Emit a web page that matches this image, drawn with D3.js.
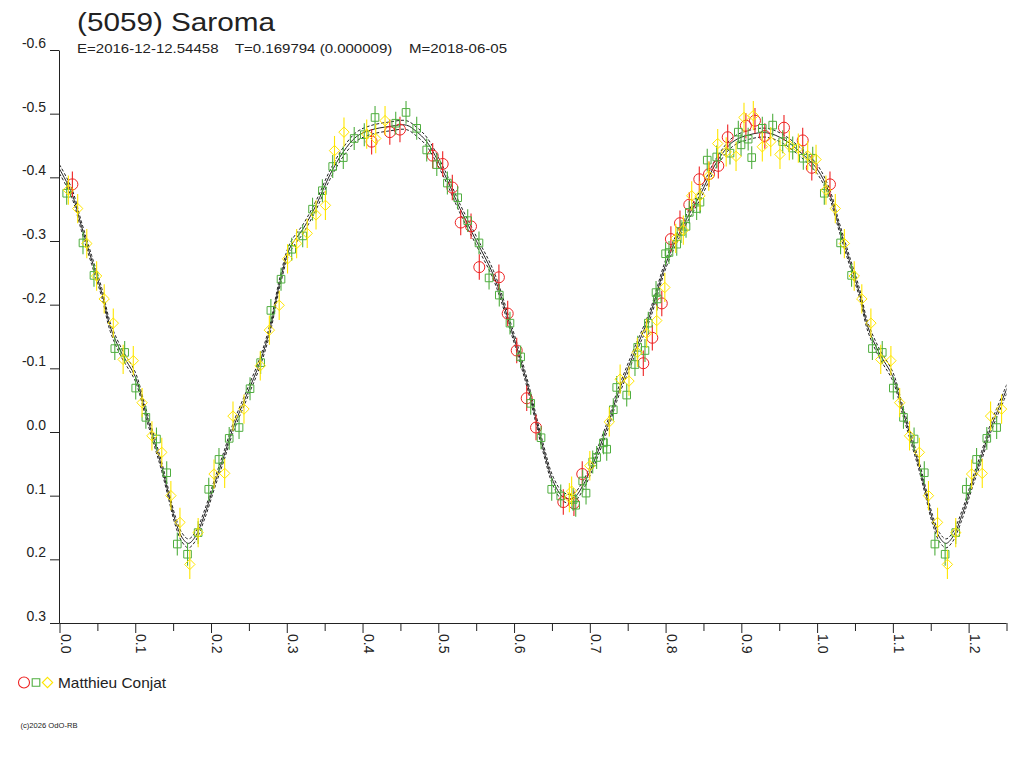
<!DOCTYPE html>
<html><head><meta charset="utf-8">
<script src="https://cdn.jsdelivr.net/npm/d3@7"></script>
<style>
html,body{margin:0;padding:0;background:#fff;}
svg{display:block;font-family:"Liberation Sans",Arial,sans-serif;}
</style></head>
<body>
<svg id="chart" width="1024" height="768"></svg>
<script>
// ---------- data ----------
const titleText = "(5059) Saroma";
const subtitleText = "E=2016-12-12.54458    T=0.169794 (0.000009)    M=2018-06-05";
const observer = "Matthieu Conjat";
const copyrightText = "(c)2026 OdO-RB";

const xMajorTicks = [0.0,0.1,0.2,0.3,0.4,0.5,0.6,0.7,0.8,0.9,1.0,1.1,1.2];
const xMinorTicks = [0.05,0.15,0.25,0.35,0.45,0.55,0.65,0.75,0.85,0.95,1.05,1.15,1.25];
const yTicks = [-0.6,-0.5,-0.4,-0.3,-0.2,-0.1,0.0,0.1,0.2,0.3];

// fitted curve (phase 0..1)
const curvePhase = [0.000,0.016,0.029,0.0425,0.056,0.067,0.082,0.100,0.113,0.126,0.135,0.1436,0.1525,0.1614,0.170,0.179,0.192,0.205,0.217,0.229,0.247,0.2647,0.278,0.291,0.304,0.322,0.339,0.357,0.3746,0.392,0.410,0.436,0.458,0.471,0.4847,0.5066,0.5286,0.5507,0.5726,0.5946,0.6167,0.6386,0.6518,0.665,0.678,0.6914,0.709,0.7266,0.7355,0.7574,0.7794,0.8015,0.8234,0.8454,0.8675,0.889,0.911,0.9335,0.9554,0.9774,1.000];
const curveMag   = [-0.413,-0.376,-0.323,-0.270,-0.218,-0.165,-0.124,-0.087,-0.034,0.018,0.055,0.096,0.138,0.165,0.175,0.165,0.128,0.080,0.038,-0.006,-0.058,-0.110,-0.163,-0.236,-0.289,-0.320,-0.357,-0.404,-0.440,-0.464,-0.474,-0.480,-0.482,-0.472,-0.456,-0.409,-0.351,-0.299,-0.247,-0.168,-0.079,0.026,0.078,0.102,0.104,0.083,0.036,-0.021,-0.055,-0.121,-0.184,-0.268,-0.325,-0.372,-0.424,-0.456,-0.467,-0.470,-0.460,-0.440,-0.413];
const curveSpread = 0.007;

// red circles
const redPhase = [0.017,0.412,0.436,0.4494,0.4926,0.5058,0.5185,0.5296,0.5432,0.5541,0.580,0.5916,0.6035,0.6167,0.629,0.665,0.679,0.690,0.7706,0.7825,0.795,0.807,0.819,0.8313,0.8445,0.8573,0.8696,0.882,0.906,0.918,0.931,0.9563,0.981,0.993];
const redMag   = [-0.389,-0.456,-0.471,-0.475,-0.434,-0.421,-0.384,-0.329,-0.323,-0.259,-0.243,-0.186,-0.128,-0.053,-0.007,0.110,0.112,0.066,-0.108,-0.148,-0.202,-0.303,-0.328,-0.357,-0.397,-0.405,-0.418,-0.463,-0.481,-0.489,-0.465,-0.478,-0.458,-0.415];
const redErr = 0.020;

// green squares
const greenPhase = [0.0095,0.031,0.0455,0.073,0.086,0.1006,0.114,0.128,0.1415,0.1555,0.169,0.183,0.197,0.2105,0.224,0.237,0.2515,0.2655,0.279,0.2924,0.3065,0.321,0.334,0.347,0.3606,0.3746,0.389,0.4023,0.4165,0.4438,0.4574,0.4715,0.4847,0.498,0.512,0.5256,0.5388,0.5537,0.567,0.5805,0.5946,0.6087,0.622,0.6356,0.6497,0.6616,0.678,0.6814,0.6906,0.695,0.7038,0.709,0.718,0.7223,0.731,0.7355,0.7487,0.7596,0.7632,0.7728,0.7772,0.7874,0.789,0.800,0.8045,0.8147,0.8204,0.827,0.8313,0.841,0.8454,0.855,0.8675,0.885,0.896,0.8996,0.909,0.9137,0.9277,0.9414,0.9546,0.9678,0.9818,0.9942];
const greenMag   = [-0.375,-0.297,-0.246,-0.131,-0.125,-0.069,-0.023,0.011,0.064,0.176,0.192,0.158,0.090,0.043,0.010,-0.007,-0.068,-0.109,-0.191,-0.240,-0.287,-0.308,-0.350,-0.379,-0.417,-0.431,-0.461,-0.467,-0.494,-0.485,-0.502,-0.477,-0.443,-0.420,-0.391,-0.368,-0.332,-0.297,-0.242,-0.215,-0.171,-0.118,-0.045,0.009,0.090,0.1005,0.106,0.115,0.077,0.096,0.047,0.040,0.017,0.027,-0.035,-0.070,-0.058,-0.106,-0.133,-0.128,-0.171,-0.219,-0.209,-0.280,-0.282,-0.295,-0.315,-0.323,-0.345,-0.351,-0.361,-0.427,-0.432,-0.438,-0.471,-0.451,-0.460,-0.431,-0.477,-0.482,-0.456,-0.446,-0.430,-0.430];
const greenErr = 0.018;

// yellow diamonds
const yellowPhase = [0.0117,0.024,0.036,0.049,0.059,0.071,0.084,0.0974,0.109,0.122,0.135,0.147,0.159,0.172,0.183,0.204,0.218,0.229,0.2435,0.265,0.277,0.290,0.301,0.313,0.327,0.3386,0.351,0.363,0.3755,0.4055,0.4174,0.4297,0.673,0.676,0.700,0.7257,0.740,0.7517,0.7627,0.775,0.7883,0.799,0.8134,0.8234,0.8345,0.8454,0.857,0.8688,0.880,0.893,0.9035,0.9158,0.9277,0.9388,0.951,0.9633,0.9752,0.9876,0.9986];
const yellowMag   = [-0.380,-0.351,-0.296,-0.245,-0.209,-0.171,-0.114,-0.112,-0.046,0.006,0.032,0.100,0.142,0.208,0.158,0.066,0.065,-0.025,-0.036,-0.104,-0.160,-0.199,-0.272,-0.296,-0.312,-0.341,-0.356,-0.442,-0.471,-0.468,-0.461,-0.489,0.103,0.093,0.053,-0.016,-0.083,-0.080,-0.125,-0.155,-0.175,-0.227,-0.304,-0.317,-0.371,-0.371,-0.402,-0.453,-0.440,-0.433,-0.494,-0.497,-0.448,-0.456,-0.436,-0.450,-0.446,-0.434,-0.428];
const yellowErr = 0.023;

const colRed = "#ee2222", colGreen = "#4fae3f", colYellow = "#ffe600", ink = "#222";

// ---------- scales ----------
const x = d3.scaleLinear().domain([0,1.25]).range([59.5,1006.5]);
const y = d3.scaleLinear().domain([-0.6,0.3]).range([50,623]);
const svg = d3.select("#chart");
const fmt = d => (Math.abs(d) < 1e-9 ? 0 : d).toFixed(1);

// wrap helper: phases shown once more shifted by +1 when within the axis range
function wrap(ph, mg){
  const out = [];
  ph.forEach((p,i)=>{ out.push([p,mg[i]]); if (p+1 <= 1.25) out.push([p+1,mg[i]]); });
  return out;
}

// ---------- axes ----------
const yAxis = svg.append("g").attr("transform","translate(59,0)")
  .call(d3.axisLeft(y).tickValues(yTicks).tickSize(9).tickSizeOuter(0).tickFormat(fmt));
yAxis.selectAll("path,line").attr("stroke",ink);
yAxis.selectAll("text").attr("x",-13).attr("dy",-2.5).attr("fill",ink)
  .style("font-size","14px").style("font-family","'Liberation Sans',Arial,sans-serif");

const xAxis = svg.append("g").attr("transform","translate(0,623)")
  .call(d3.axisBottom(x).tickValues(xMajorTicks).tickSize(10).tickSizeOuter(0).tickFormat(fmt));
xAxis.select("path").attr("stroke",ink).attr("d","M59.5,0.5H1006.5");
xAxis.selectAll("line").attr("stroke",ink);
xAxis.selectAll("text").attr("x",0).attr("y",0).attr("dy",0)
  .attr("transform","translate(0.5,11) rotate(90)").style("text-anchor","start").attr("fill",ink)
  .style("font-size","14px").style("font-family","'Liberation Sans',Arial,sans-serif");

const xMinor = svg.append("g").attr("transform","translate(0,623)")
  .call(d3.axisBottom(x).tickValues(xMinorTicks).tickSize(8).tickSizeOuter(0).tickFormat(""));
xMinor.select("path").remove();
xMinor.selectAll("line").attr("stroke",ink);

// ---------- fitted curve ----------
svg.append("clipPath").attr("id","plotclip").append("rect")
  .attr("x",x(0)).attr("y",y(-0.6)).attr("width",x(1.25)-x(0)).attr("height",y(0.3)-y(-0.6));

const curvePts = [];
curvePhase.forEach((p,i)=>curvePts.push([p,curveMag[i]]));
curvePhase.forEach((p,i)=>{ if (p>0 && p<=0.28) curvePts.push([p+1,curveMag[i]]); });
curvePts.sort((a,b)=>a[0]-b[0]);

const cg = svg.append("g").attr("clip-path","url(#plotclip)");
[-curveSpread,0,curveSpread].forEach(off=>{
  cg.append("path")
    .attr("d", d3.line().x(d=>x(d[0])).y(d=>y(d[1]+off)).curve(d3.curveCatmullRom)(curvePts))
    .attr("fill","none").attr("stroke",ink).attr("stroke-width",1)
    .attr("stroke-dasharray", off===0 ? null : "3,2");
});

// ---------- observations ----------
function markerPath(shape){
  if (shape==="circle") return "M5.5,0A5.5,5.5 0 1,1 -5.5,0A5.5,5.5 0 1,1 5.5,0Z";
  if (shape==="square") return "M-3.8,-3.8H3.8V3.8H-3.8Z";
  return "M0,-5.2L5.2,0L0,5.2L-5.2,0Z";
}
function drawSeries(ph, mg, err, color, shape){
  const g = svg.append("g");
  const pts = wrap(ph, mg);
  g.selectAll("line.err").data(pts).join("line")
    .attr("x1",d=>x(d[0])).attr("x2",d=>x(d[0]))
    .attr("y1",d=>y(d[1]-err)).attr("y2",d=>y(d[1]+err))
    .attr("stroke",color).attr("stroke-width",1.1);
  g.selectAll("path.m").data(pts).join("path")
    .attr("transform",d=>`translate(${x(d[0])},${y(d[1])})`)
    .attr("d", markerPath(shape))
    .attr("fill","none").attr("stroke",color).attr("stroke-width",1);
}
drawSeries(redPhase, redMag, redErr, colRed, "circle");
drawSeries(greenPhase, greenMag, greenErr, colGreen, "square");
drawSeries(yellowPhase, yellowMag, yellowErr, colYellow, "diamond");

// ---------- texts ----------
svg.append("text").attr("x",77).attr("y",31).text(titleText)
  .attr("fill",ink).style("font-size","25px").attr("textLength",198).attr("lengthAdjust","spacingAndGlyphs");
svg.append("text").attr("x",77).attr("y",53).text(subtitleText).attr("xml:space","preserve")
  .style("white-space","pre").attr("fill",ink).style("font-size","13.5px").attr("textLength",430).attr("lengthAdjust","spacingAndGlyphs");

// legend
const lg = svg.append("g").attr("transform","translate(0,682.5)");
lg.append("path").attr("transform","translate(24,0)").attr("d",markerPath("circle")).attr("fill","none").attr("stroke",colRed).attr("stroke-width",1.1);
lg.append("path").attr("transform","translate(36,0)").attr("d",markerPath("square")).attr("fill","none").attr("stroke",colGreen).attr("stroke-width",1.1);
lg.append("path").attr("transform","translate(47.5,0)").attr("d",markerPath("diamond")).attr("fill","none").attr("stroke",colYellow).attr("stroke-width",1.1);
svg.append("text").attr("x",58).attr("y",688).text(observer).attr("fill",ink)
  .style("font-size","14.5px").attr("textLength",108).attr("lengthAdjust","spacingAndGlyphs");

svg.append("text").attr("x",20.5).attr("y",728).text(copyrightText).attr("fill",ink)
  .style("font-size","7.5px").attr("textLength",57).attr("lengthAdjust","spacingAndGlyphs");
</script>
</body></html>
